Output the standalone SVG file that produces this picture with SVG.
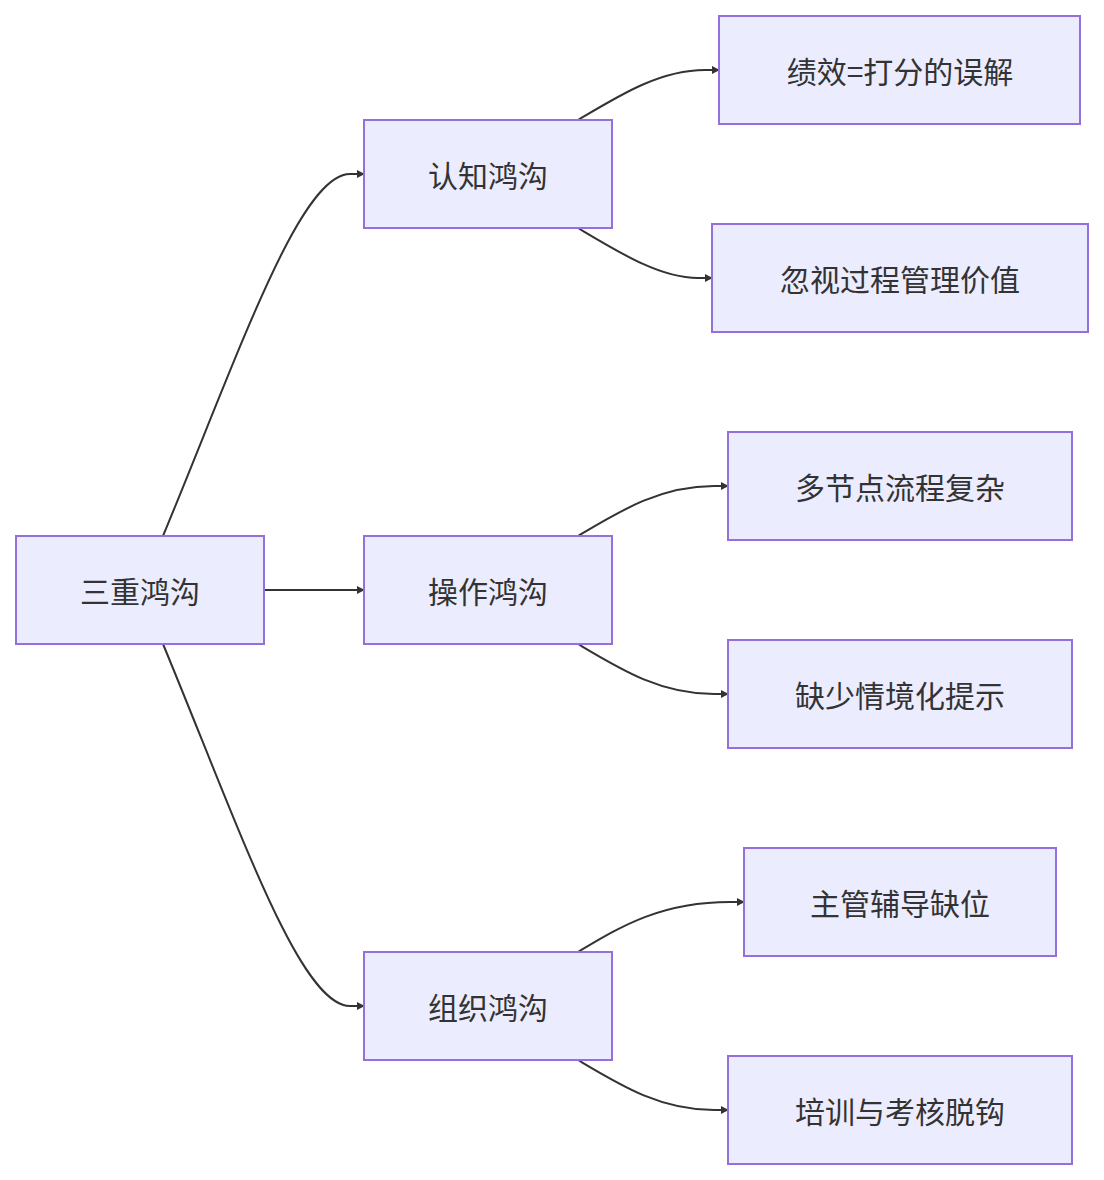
<svg xmlns="http://www.w3.org/2000/svg" width="1104" height="1180" viewBox="0 0 1104 1180">
<style>
.n rect{fill:#ECECFF;stroke:#9370DB;stroke-width:2}
.n text{font-family:"Noto Sans CJK SC",sans-serif;font-size:30px;fill:#333;text-anchor:middle;dominant-baseline:central}
.e path{fill:none;stroke:#333;stroke-width:2;marker-end:url(#a)}
</style>
<defs><marker id="a" viewBox="0 0 10 10" refX="9" refY="5" markerWidth="8" markerHeight="8" markerUnits="userSpaceOnUse" orient="auto"><path d="M0,0L10,5L0,10z" fill="#333"/></marker></defs>
<rect width="1104" height="1180" fill="#fff"/>
<g class="e">
<path d="M163,536C240,350 300,174 350,174L364,174"/>
<path d="M264,590L364,590"/>
<path d="M163,644C240,830 300,1006 350,1006L364,1006"/>
<path d="M578,120C620,95 660,70 705,70L719,70"/>
<path d="M578,228C620,253 660,278 698,278L712,278"/>
<path d="M578,536C620,511 660,486 714,486L728,486"/>
<path d="M578,644C620,669 660,694 714,694L728,694"/>
<path d="M578,952C620,927 660,902 730,902L744,902"/>
<path d="M578,1060C620,1085 660,1110 714,1110L728,1110"/>
</g>
<g id="n0" class="n"><rect x="16" y="536" width="248" height="108"/><text x="140" y="590">三重鸿沟</text></g>
<g id="n1" class="n"><rect x="364" y="120" width="248" height="108"/><text x="488" y="174">认知鸿沟</text></g>
<g id="n2" class="n"><rect x="364" y="536" width="248" height="108"/><text x="488" y="590">操作鸿沟</text></g>
<g id="n3" class="n"><rect x="364" y="952" width="248" height="108"/><text x="488" y="1006">组织鸿沟</text></g>
<g id="n4" class="n"><rect x="719" y="16" width="361" height="108"/><text x="900" y="70">绩效=打分的误解</text></g>
<g id="n5" class="n"><rect x="712" y="224" width="376" height="108"/><text x="900" y="278">忽视过程管理价值</text></g>
<g id="n6" class="n"><rect x="728" y="432" width="344" height="108"/><text x="900" y="486">多节点流程复杂</text></g>
<g id="n7" class="n"><rect x="728" y="640" width="344" height="108"/><text x="900" y="694">缺少情境化提示</text></g>
<g id="n8" class="n"><rect x="744" y="848" width="312" height="108"/><text x="900" y="902">主管辅导缺位</text></g>
<g id="n9" class="n"><rect x="728" y="1056" width="344" height="108"/><text x="900" y="1110">培训与考核脱钩</text></g>
</svg>
